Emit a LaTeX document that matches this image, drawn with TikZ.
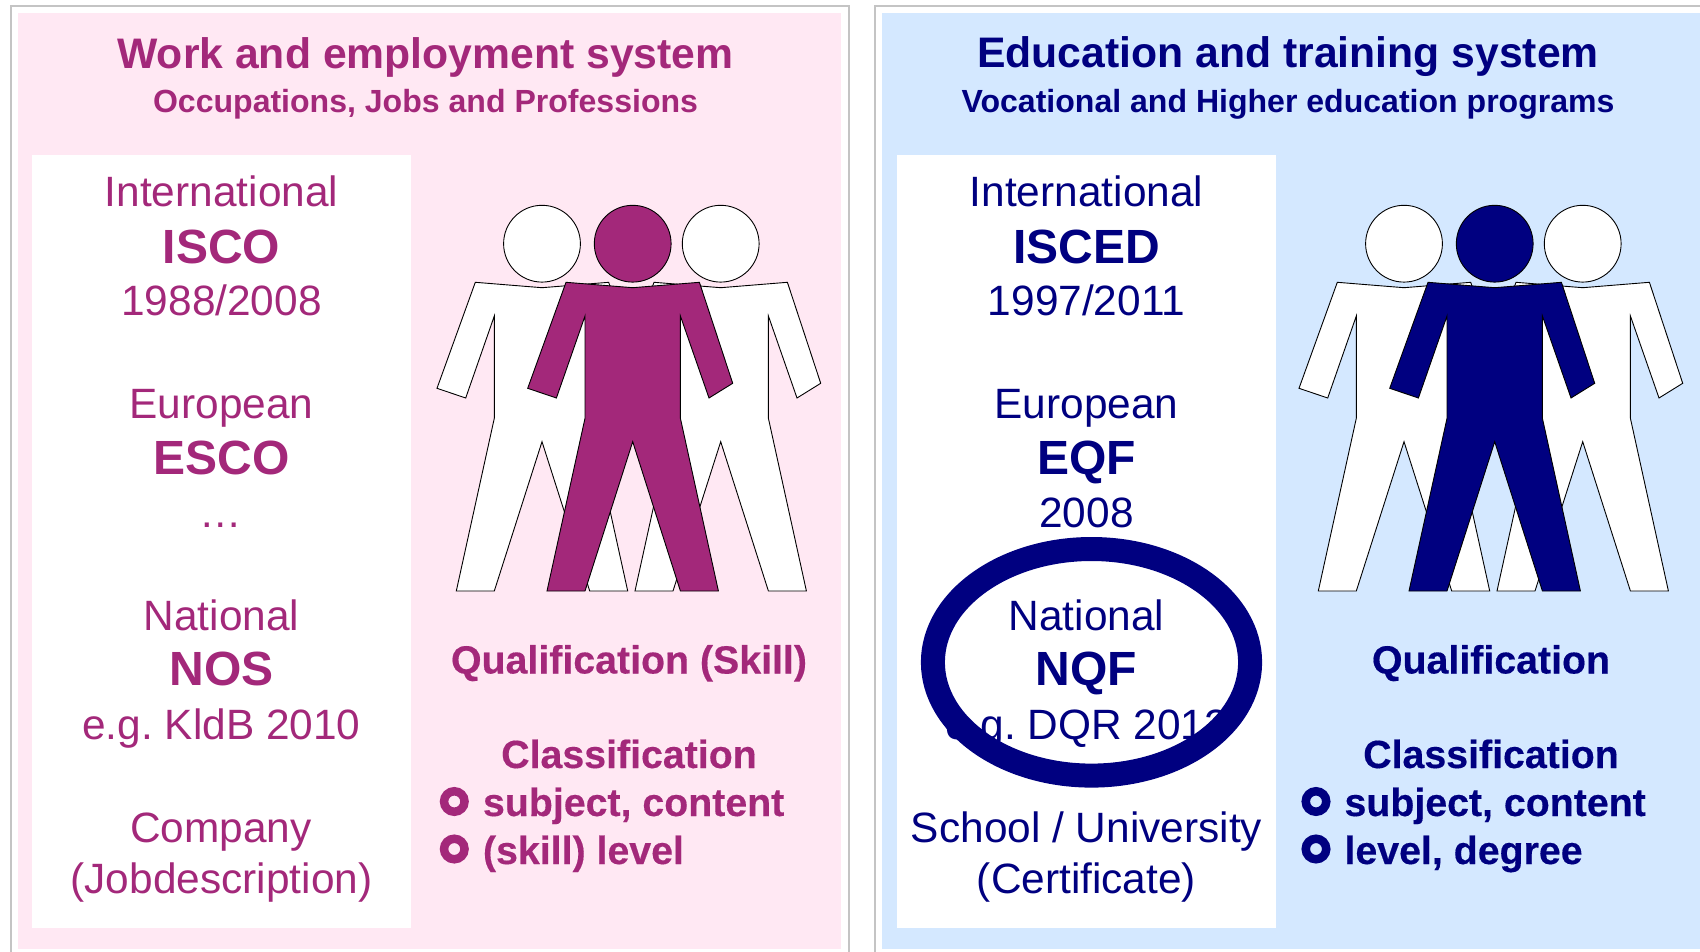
\documentclass[tikz,border=0pt]{standalone}
\usepackage{fontspec}
\setmainfont{Liberation Sans}
\newfontfamily\sidefont[FakeBold=0.35]{Liberation Sans Bold}
\frenchspacing
\definecolor{mag}{HTML}{A3287A}
\definecolor{navyb}{HTML}{000080}
\definecolor{pinkbg}{HTML}{FFE8F3}
\definecolor{bluebg}{HTML}{D4E8FF}
\definecolor{framegray}{HTML}{C4C4C4}
\newcommand{\personfig}[2]{%
  \fill[#2,draw=black,line width=0.9pt] (#1,243.7) circle (38.4);
  \begin{scope}[shift={(#1,0)}]
  \fill[#2,draw=black,line width=0.9pt,line join=miter]
    (-66.7,282.3) -- (0,287.7) -- (66.7,282.3) -- (100,383.3) -- (76.3,398) -- (47.7,316)
    -- (47.7,418.3) -- (85.7,591) -- (47.7,591) -- (0,441.7) -- (-47.7,591) -- (-85.7,591)
    -- (-47.7,418.3) -- (-47.7,316) -- (-76.3,398) -- (-105,388.3) -- cycle;
  \end{scope}
}
\tikzset{
  base/.style={anchor=base,inner sep=0pt,outer sep=0pt,align=center},
  ttl/.style={base,font=\fontsize{42.7}{42.7}\selectfont\bfseries},
  sub/.style={base,font=\fontsize{32.05}{32}\selectfont\bfseries},
  reg/.style={base,font=\fontsize{42.4}{42}\selectfont},
  big/.style={base,font=\fontsize{48}{48}\selectfont\bfseries},
  side/.style={base,font=\fontsize{39.3}{39}\selectfont\sidefont},
  sideL/.style={side,anchor=base west},
  frameline/.style={draw=framegray,line width=1.6pt},
  ring/.style={circle,draw,line width=8.5pt,minimum size=20.5pt,inner sep=0pt,fill=none},
}
\begin{document}
\begin{tikzpicture}[x=1pt,y=-1pt]
\useasboundingbox (0,0) rectangle (1700,952);
\fill[white] (0,0) rectangle (1700,952);
\draw[frameline] (11,952) -- (11,6) -- (849,6) -- (849,952);
\draw[frameline] (875,952) -- (875,6) -- (1700,6);
\fill[pinkbg] (17.5,13.5) rectangle (841,949);
\fill[bluebg] (882,13.5) rectangle (1700,949);
\fill[white] (32,155) rectangle (411,928);
\fill[white] (897,155) rectangle (1276,928);
% left panel
\begin{scope}[text=mag]
\node[ttl] (lt) at (425.5,69) {Work and employment system};
\node[sub] (ls) at (425.5,113) {Occupations, Jobs and Professions};
\node[reg] (l1) at (221.5,206.5) {International};
\node[big] (l2) at (221.5,263) {ISCO};
\node[reg] (l3) at (221.5,315) {1988/2008};
\node[reg] (l4) at (221.5,418) {European};
\node[big] (l5) at (221.5,474) {ESCO};
\node[reg] (l6) at (221,527) {…};
\node[reg] (l7) at (221.5,630) {National};
\node[big] (l8) at (221.5,685.5) {NOS};
\node[reg] (l9) at (221.5,739) {e.g. KldB 2010};
\node[reg] (l10) at (221,842) {Company};
\node[reg] (l11) at (221.5,893) {(Jobdescription)};
\node[side] (lq) at (629,673.5) {Qualification (Skill)};
\node[side] (lc) at (629,768) {Classification};
\node[sideL] (la) at (483,816) {subject, content};
\node[sideL] (lb) at (483,864) {(skill) level};
\node[ring,draw=mag] (lra) at (454.3,801.5) {};
\node[ring,draw=mag] (lrb) at (454.3,849) {};
\end{scope}
\personfig{542}{white}
\personfig{720.7}{white}
\personfig{632.7}{mag}
% right panel
\begin{scope}[text=navyb]
\node[ttl] (rt) at (1288,68) {Education and training system};
\node[sub] (rs) at (1288,113) {Vocational and Higher education programs};
\node[reg] (r1) at (1086.5,206.5) {International};
\node[big] (r2) at (1086.5,263) {ISCED};
\node[reg] (r3) at (1086.5,315) {1997/2011};
\node[reg] (r4) at (1086.5,418) {European};
\node[big] (r5) at (1086.5,474) {EQF};
\node[reg] (r6) at (1086.5,527) {2008};
\node[reg] (r7) at (1086.5,630) {National};
\node[big] (r8) at (1086.5,685.5) {NQF};
\node[reg] (r9) at (1086.5,739) {e.g. DQR 2012};
\node[reg] (r10) at (1086.5,842) {School / University};
\node[reg] (r11) at (1086.5,893) {(Certificate)};
\node[side] (rq) at (1491,673.5) {Qualification};
\node[side] (rc) at (1491,768) {Classification};
\node[sideL] (ra) at (1344.5,816) {subject, content};
\node[sideL] (rb) at (1344.5,864) {level, degree};
\node[ring,draw=navyb] (rra) at (1316,801.5) {};
\node[ring,draw=navyb] (rrb) at (1316,849) {};
\end{scope}
\personfig{1404}{white}
\personfig{1582.7}{white}
\personfig{1494.7}{navyb}
\draw[navyb,line width=24pt] (1091.5,662.3) ellipse (158.6 and 113.3);
\end{tikzpicture}
\end{document}
